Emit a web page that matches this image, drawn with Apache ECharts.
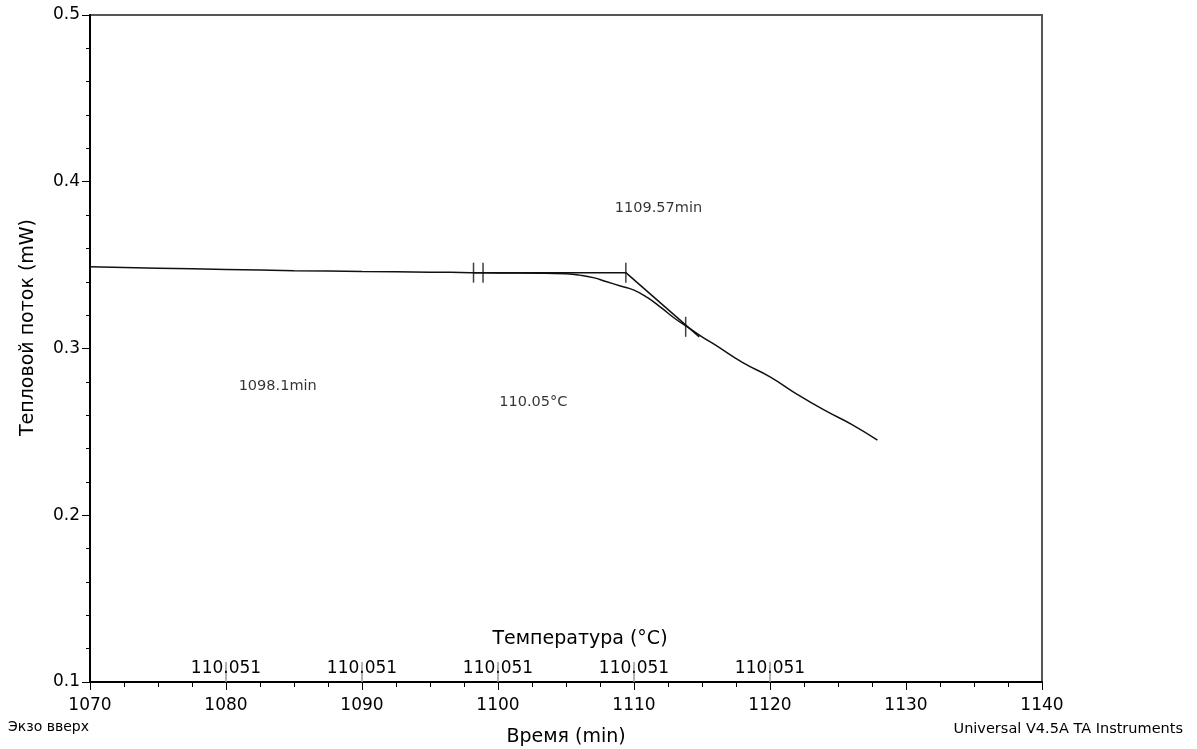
<!DOCTYPE html>
<html>
<head>
<meta charset="utf-8">
<script src="https://cdn.jsdelivr.net/npm/echarts@6/dist/echarts.min.js"></script>
<style>
  html, body { margin: 0; padding: 0; background: #fff; }
  #chart { width: 1197px; height: 749px; }
</style>
</head>
<body>
<div id="chart"></div>
<script>
// heat flow curve: time (min), heat flow (mW)
const curveTime = [1070, 1075, 1080, 1085, 1090, 1095, 1098, 1100, 1103, 1105, 1106, 1107, 1108, 1109, 1110, 1111, 1112, 1113, 1114, 1115, 1116, 1118, 1120, 1122, 1124, 1126, 1127.9];
const curveFlow = [0.349, 0.3482, 0.3474, 0.3467, 0.3462, 0.3458, 0.3455, 0.3453, 0.3452, 0.3448, 0.3440, 0.3425, 0.3400, 0.3375, 0.3350, 0.3305, 0.3245, 0.3180, 0.3125, 0.3070, 0.3020, 0.2915, 0.2830, 0.2725, 0.2630, 0.2545, 0.2450];

// onset construction lines
const tangentTime = [1098.2, 1109.4, 1114.8];
const tangentFlow = [0.3455, 0.3455, 0.307];

// analysis markers
const markerTime = [1098.2, 1098.9, 1109.4, 1113.8];
const markerFlow = [0.3455, 0.3455, 0.3455, 0.313];

// annotation texts
const noteText = ['1109.57min', '1098.1min', '110.05°C'];
const noteTime = [1111.8, 1083.8, 1102.6];
const noteFlow = [0.3844, 0.2772, 0.2677];

// secondary (temperature) axis labels
const tempTicks = [1080, 1090, 1100, 1110, 1120];
const tempLabels = ['110.051', '110.051', '110.051', '110.051', '110.051'];

const FONT = 'DejaVu Sans, sans-serif';
const chart = echarts.init(document.getElementById('chart'));

chart.setOption({
  animation: false,
  backgroundColor: '#fff',
  textStyle: { fontFamily: FONT, color: '#000' },
  grid: {
    left: 90, top: 15, right: 155, bottom: 67,
    outerBoundsMode: 'none',
    show: true, borderColor: '#555', borderWidth: 2, backgroundColor: 'transparent'
  },
  graphic: [
    { type: 'text', left: 8, top: 720, style: { text: 'Экзо вверх', font: '14px ' + FONT, fill: '#000' } },
    { type: 'text', right: 14, top: 722, style: { text: 'Universal V4.5A TA Instruments', font: '14.5px ' + FONT, fill: '#000' } }
  ],
  xAxis: [
    {
      type: 'value', min: 1070, max: 1140, interval: 10,
      name: 'Время (min)', nameLocation: 'middle', nameGap: 46,
      nameTextStyle: { fontSize: 19, color: '#000' },
      axisLine: { lineStyle: { color: '#000', width: 2 } },
      axisTick: { length: 8, lineStyle: { color: '#000', width: 1 } },
      minorTick: { show: true, splitNumber: 4, length: 5, lineStyle: { color: '#000', width: 1 } },
      axisLabel: { fontSize: 17, color: '#000', margin: 15, formatter: v => String(v) },
      splitLine: { show: false }
    },
    {
      type: 'value', min: 1070, max: 1140, position: 'bottom',
      name: 'Температура (°C)', nameLocation: 'middle', nameGap: -52,
      nameTextStyle: { fontSize: 19, color: '#000', padding: [0, 0, 0, 28] },
      axisLine: { show: false },
      axisTick: { show: true, inside: true, length: 20, customValues: tempTicks, lineStyle: { color: '#999', width: 1.5 } },
      axisLabel: {
        inside: true, fontSize: 17, color: '#000', margin: 5,
        customValues: tempTicks,
        formatter: v => tempLabels[tempTicks.indexOf(v)] || ''
      },
      splitLine: { show: false }
    }
  ],
  yAxis: {
    type: 'value', min: 0.1, max: 0.5, interval: 0.1,
    name: 'Тепловой поток (mW)', nameLocation: 'middle', nameGap: 52,
    nameTextStyle: { fontSize: 19, color: '#000', padding: [0, 0, 0, 42] },
    axisLine: { show: true, lineStyle: { color: '#000', width: 2 } },
    axisTick: { show: true, length: 8, lineStyle: { color: '#000', width: 1 } },
    minorTick: { show: true, splitNumber: 5, length: 4, lineStyle: { color: '#000', width: 1 } },
    axisLabel: { fontSize: 17, color: '#000', margin: 10, formatter: v => String(+v.toFixed(1)) },
    splitLine: { show: false }
  },
  series: [
    {
      type: 'line', xAxisIndex: 0, symbol: 'none', smooth: true,
      lineStyle: { color: '#111', width: 1.5 },
      data: curveTime.map((t, i) => [t, curveFlow[i]])
    },
    {
      type: 'line', xAxisIndex: 0, symbol: 'none',
      lineStyle: { color: '#111', width: 1.5 },
      data: tangentTime.map((t, i) => [t, tangentFlow[i]])
    },
    {
      type: 'scatter', xAxisIndex: 0, symbol: 'rect', symbolSize: [1.5, 20],
      itemStyle: { color: '#111' },
      data: markerTime.map((t, i) => [t, markerFlow[i]])
    },
    {
      type: 'scatter', xAxisIndex: 0, symbolSize: 0, silent: true,
      label: {
        show: true, position: 'inside', fontSize: 14.5, color: '#000',
        formatter: p => noteText[p.dataIndex]
      },
      data: noteTime.map((t, i) => [t, noteFlow[i]])
    }
  ]
});
</script>
</body>
</html>
